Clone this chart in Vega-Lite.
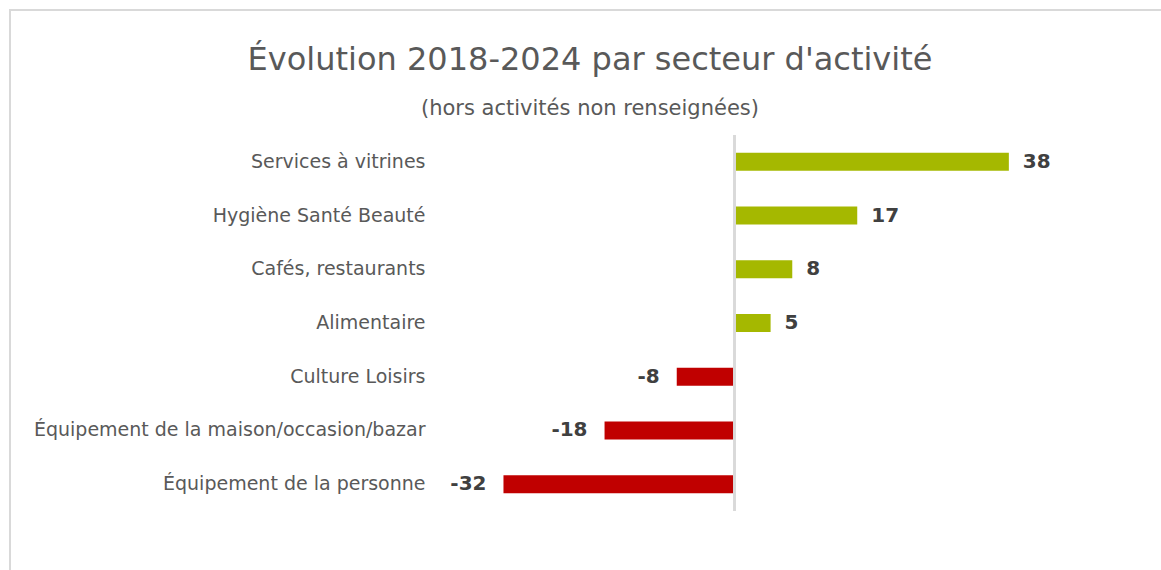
{
  "$schema": "https://vega.github.io/schema/vega-lite/v6.json",
  "width": 1160,
  "height": 570,
  "padding": {"left": 10, "top": 10, "right": 0, "bottom": 0},
  "background": "white",
  "config": {"view": {"stroke": "#d9d9d9", "strokeWidth": 2}, "font": "DejaVu Sans"},
  "title": {
    "text": "Évolution 2018-2024 par secteur d'activité",
    "subtitle": "(hors activités non renseignées)",
    "anchor": "middle",
    "frame": "group",
    "offset": -110,
    "fontSize": 32,
    "fontWeight": "normal",
    "color": "#595959",
    "font": "DejaVu Sans",
    "subtitleFont": "DejaVu Sans",
    "subtitleFontSize": 21,
    "subtitleColor": "#595959",
    "subtitlePadding": 21
  },
  "data": {
    "values": [
      {"secteur": "Services à vitrines", "valeur": 38},
      {"secteur": "Hygiène Santé Beauté", "valeur": 17},
      {"secteur": "Cafés, restaurants", "valeur": 8},
      {"secteur": "Alimentaire", "valeur": 5},
      {"secteur": "Culture Loisirs", "valeur": -8},
      {"secteur": "Équipement de la maison/occasion/bazar", "valeur": -18},
      {"secteur": "Équipement de la personne", "valeur": -32}
    ]
  },
  "encoding": {
    "y": {
      "field": "secteur",
      "type": "nominal",
      "sort": null,
      "scale": {"range": [125, 501], "paddingInner": 0.665, "paddingOuter": 0.3325},
      "axis": {
        "orient": "left",
        "offset": -415,
        "ticks": false,
        "domain": false,
        "labelPadding": 0,
        "title": null,
        "labelFontSize": 19,
        "labelColor": "#595959",
        "labelFont": "DejaVu Sans",
        "labelLimit": 600
      }
    },
    "x": {
      "field": "valeur",
      "type": "quantitative",
      "scale": {"domain": [-100.35, 60.32], "nice": false, "zero": false},
      "axis": null
    }
  },
  "layer": [
    {
      "mark": {"type": "bar"},
      "encoding": {
        "color": {"condition": {"test": "datum.valeur >= 0", "value": "#a5b800"}, "value": "#c00000"}
      }
    },
    {
      "mark": {"type": "rule", "color": "#d9d9d9", "strokeWidth": 2},
      "encoding": {
        "x": {"datum": 0, "type": "quantitative"},
        "y": {"datum": "Services à vitrines", "type": "nominal", "bandPosition": -0.992},
        "y2": {"datum": "Équipement de la personne", "bandPosition": 1.992}
      }
    },
    {
      "transform": [{"filter": "datum.valeur >= 0"}],
      "mark": {"type": "text", "align": "left", "baseline": "middle", "dx": 14, "fontSize": 20, "fontWeight": "bold", "color": "#404040", "font": "DejaVu Sans"},
      "encoding": {"text": {"field": "valeur", "type": "nominal"}}
    },
    {
      "transform": [{"filter": "datum.valeur < 0"}],
      "mark": {"type": "text", "align": "right", "baseline": "middle", "dx": -17, "fontSize": 20, "fontWeight": "bold", "color": "#404040", "font": "DejaVu Sans"},
      "encoding": {"text": {"field": "valeur", "type": "nominal"}}
    }
  ]
}
